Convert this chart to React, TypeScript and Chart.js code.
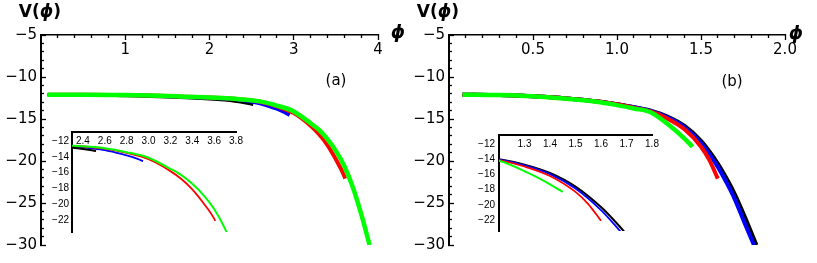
import React, { useEffect, useRef } from "react";
import { Chart, registerables } from "chart.js";

Chart.register(...registerables);

// ---------------- Panel (a): V(phi) main curves ----------------
const A_BLACK_PHI = [0.08, 0.5, 1.0, 1.5, 2.0, 2.3, 2.4, 2.52];
const A_BLACK_V = [-12.1, -12.1, -12.2, -12.35, -12.6, -12.85, -13.0, -13.25];
const A_BLUE_PHI = [0.08, 0.5, 1.0, 1.5, 2.0, 2.3, 2.5, 2.6, 2.7, 2.8, 2.9, 2.95];
const A_BLUE_V = [-12.1, -12.1, -12.15, -12.3, -12.5, -12.65, -12.95, -13.15, -13.45, -13.8, -14.25, -14.55];
const A_RED_PHI = [0.08, 0.5, 1.0, 1.5, 2.0, 2.3, 2.6, 2.8, 3.0, 3.2, 3.3, 3.4, 3.5, 3.6, 3.61];
const A_RED_V = [-12.1, -12.1, -12.15, -12.25, -12.45, -12.6, -12.95, -13.5, -14.3, -15.8, -16.8, -18.1, -19.8, -21.8, -22.1];
const A_GREEN_PHI = [0.08, 0.5, 1.0, 1.5, 2.0, 2.3, 2.6, 2.8, 3.0, 3.2, 3.3, 3.4, 3.5, 3.6, 3.7, 3.8, 3.9];
const A_GREEN_V = [-12.1, -12.1, -12.15, -12.25, -12.45, -12.6, -12.9, -13.4, -14.1, -15.5, -16.3, -17.4, -18.8, -20.6, -23.1, -26.3, -30];

// ---------------- Panel (b): V(phi) main curves ----------------
const B_BLACK_PHI = [0.08, 0.3, 0.5, 0.7, 0.9, 1.0, 1.1, 1.2, 1.3, 1.4, 1.5, 1.6, 1.65, 1.7, 1.76, 1.83];
const B_BLACK_V = [-12.1, -12.15, -12.3, -12.55, -12.95, -13.25, -13.6, -14.0, -14.7, -15.8, -17.6, -20.3, -22.0, -23.9, -26.6, -30];
const B_BLUE_PHI = [0.08, 0.3, 0.5, 0.7, 0.9, 1.0, 1.1, 1.2, 1.3, 1.4, 1.5, 1.6, 1.65, 1.7, 1.76, 1.815];
const B_BLUE_V = [-12.1, -12.15, -12.3, -12.55, -12.95, -13.25, -13.6, -14.05, -14.8, -15.95, -17.85, -20.7, -22.5, -24.5, -27.4, -30];
const B_RED_PHI = [0.08, 0.3, 0.5, 0.7, 0.9, 1.0, 1.1, 1.2, 1.3, 1.4, 1.5, 1.55, 1.6];
const B_RED_V = [-12.1, -12.15, -12.3, -12.55, -12.95, -13.25, -13.65, -14.1, -14.95, -16.2, -18.3, -19.9, -22.1];
const B_GREEN_PHI = [0.08, 0.3, 0.5, 0.7, 0.9, 1.0, 1.1, 1.2, 1.32, 1.4, 1.45];
const B_GREEN_V = [-12.1, -12.15, -12.3, -12.6, -13.0, -13.35, -13.75, -14.2, -15.9, -17.3, -18.3];

// ---------------- Axis ticks ----------------
const A_X_MAJOR = [1, 2, 3, 4];
const A_X_LABELS = ["1", "2", "3", "4"];
const A_X_MINOR = [0.2, 0.4, 0.6, 0.8, 1.2, 1.4, 1.6, 1.8, 2.2, 2.4, 2.6, 2.8, 3.2, 3.4, 3.6, 3.8];
const B_X_MAJOR = [0.5, 1.0, 1.5, 2.0];
const B_X_LABELS = ["0.5", "1.0", "1.5", "2.0"];
const B_X_MINOR = [0.1, 0.2, 0.3, 0.4, 0.6, 0.7, 0.8, 0.9, 1.1, 1.2, 1.3, 1.4, 1.6, 1.7, 1.8, 1.9];
const Y_MAJOR = [-5, -10, -15, -20, -25, -30];
const Y_LABELS = ["\u22125", "\u221210", "\u221215", "\u221220", "\u221225", "\u221230"];
const Y_MINOR = [-6, -7, -8, -9, -11, -12, -13, -14, -16, -17, -18, -19, -21, -22, -23, -24, -26, -27, -28, -29];

// insets
const IA_X_TICKS = [2.4, 2.6, 2.8, 3.0, 3.2, 3.4, 3.6, 3.8];
const IA_X_LABELS = ["2.4", "2.6", "2.8", "3.0", "3.2", "3.4", "3.6", "3.8"];
const IB_X_TICKS = [1.3, 1.4, 1.5, 1.6, 1.7, 1.8];
const IB_X_LABELS = ["1.3", "1.4", "1.5", "1.6", "1.7", "1.8"];
const I_Y_TICKS = [-12, -14, -16, -18, -20, -22];
const I_Y_LABELS = ["\u221212", "\u221214", "\u221216", "\u221218", "\u221220", "\u221222"];

type Ser = { phi: number[]; v: number[]; color: string; width: number };

interface Spec {
  left: number;
  width: number;
  area: { l: number; t: number; r: number; b: number };
  xr: [number, number];
  yr: [number, number];
  xMajor: number[];
  xLabels: string[];
  xMinor: number[];
  yMajor: number[];
  yLabels: string[];
  yMinor: number[];
  font: { family: string; size: number; lineHeight: number };
  xPad: number;
  yGap: number;
  majorLen: number;
  minorLen: number;
  xBorder: number;
  yBorder: number;
  series: Ser[]; // drawn in this order: last one ends on top
}

const H = 263;

function axis(kind: "x" | "y", o: any) {
  return {
    type: "linear",
    position: kind === "x" ? "top" : "left",
    min: o.min,
    max: o.max,
    weight: o.weight,
    afterBuildTicks: (s: any) => {
      s.ticks = o.vals.map((v: number) => ({ value: v }));
    },
    afterFit: (s: any) => {
      if (kind === "x") s.height = o.size;
      else s.width = o.size;
    },
    ticks: {
      display: o.show,
      mirror: kind === "x",
      padding: o.pad,
      font: o.font,
      color: "#000",
      autoSkip: false,
      maxRotation: 0,
      minRotation: 0,
      callback: (_v: any, i: number) => (o.labels ? o.labels[i] ?? "" : ""),
    },
    grid: {
      display: true,
      drawOnChartArea: false,
      drawTicks: o.len > 0,
      tickLength: -o.len,
      tickColor: "#000",
      tickWidth: 1.3,
      lineWidth: 1,
    },
    border: { display: o.border > 0, width: o.border || 0, color: "#000" },
  };
}

function buildConfig(s: Spec): any {
  const scales: any = {
    x: axis("x", {
      min: s.xr[0], max: s.xr[1], weight: 2, vals: s.xMajor, labels: s.xLabels,
      size: 0, show: true, pad: s.xPad, font: s.font, len: s.majorLen, border: s.xBorder,
    }),
    y: axis("y", {
      min: s.yr[0], max: s.yr[1], weight: 2, vals: s.yMajor, labels: s.yLabels,
      size: s.area.l, show: true, pad: s.majorLen + s.yGap, font: s.font, len: s.majorLen, border: s.yBorder,
    }),
  };
  if (s.xMinor.length) {
    scales.xm = axis("x", {
      min: s.xr[0], max: s.xr[1], weight: 0, vals: s.xMinor, size: 0, show: false,
      pad: 0, font: s.font, len: s.minorLen, border: 0,
    });
  }
  if (s.yMinor.length) {
    scales.ym = axis("y", {
      min: s.yr[0], max: s.yr[1], weight: 0, vals: s.yMinor, size: 0, show: false,
      pad: 0, font: s.font, len: s.minorLen, border: 0,
    });
  }
  const n = s.series.length;
  return {
    type: "scatter",
    data: {
      datasets: s.series.map((se, k) => ({
        data: se.phi.map((x, i) => ({ x, y: se.v[i] })),
        showLine: true,
        borderColor: se.color,
        backgroundColor: se.color,
        borderWidth: se.width,
        pointRadius: 0,
        fill: false,
        cubicInterpolationMode: "monotone",
        clip: 0,
        order: n - k,
        xAxisID: "x",
        yAxisID: "y",
      })),
    },
    options: {
      animation: false,
      responsive: false,
      maintainAspectRatio: false,
      events: [],
      layout: {
        padding: { left: 0, top: s.area.t, right: s.width - s.area.r, bottom: H - s.area.b },
      },
      plugins: { legend: { display: false }, tooltip: { enabled: false }, title: { display: false } },
      scales,
    },
  };
}

function ChartCanvas({ spec }: { spec: Spec }) {
  const ref = useRef<HTMLCanvasElement>(null);
  useEffect(() => {
    const chart = new Chart(ref.current as HTMLCanvasElement, buildConfig(spec));
    return () => chart.destroy();
  }, []);
  return (
    <canvas
      ref={ref}
      width={spec.width}
      height={H}
      style={{ position: "absolute", left: spec.left, top: 0, width: spec.width, height: H }}
    />
  );
}

const MAIN_FONT = { family: "'DejaVu Sans'", size: 15, lineHeight: 1.2 };
const INSET_FONT = { family: "'Liberation Sans'", size: 10, lineHeight: 1.2 };

const mainA: Spec = {
  left: 0, width: 408, area: { l: 41, t: 35, r: 378, b: 247 },
  xr: [0, 4], yr: [-30, -5],
  xMajor: A_X_MAJOR, xLabels: A_X_LABELS, xMinor: A_X_MINOR,
  yMajor: Y_MAJOR, yLabels: Y_LABELS, yMinor: Y_MINOR,
  font: MAIN_FONT, xPad: 6, yGap: 4, majorLen: 5, minorLen: 3, xBorder: 1.5, yBorder: 2,
  series: [
    { phi: A_BLACK_PHI, v: A_BLACK_V, color: "#000000", width: 3.5 },
    { phi: A_BLUE_PHI, v: A_BLUE_V, color: "#0000ff", width: 3.5 },
    { phi: A_RED_PHI, v: A_RED_V, color: "#ff0000", width: 4 },
    { phi: A_GREEN_PHI, v: A_GREEN_V, color: "#00ff00", width: 4.5 },
  ],
};

const mainB: Spec = {
  left: 408, width: 409, area: { l: 41, t: 35, r: 377, b: 247 },
  xr: [0, 2], yr: [-30, -5],
  xMajor: B_X_MAJOR, xLabels: B_X_LABELS, xMinor: B_X_MINOR,
  yMajor: Y_MAJOR, yLabels: Y_LABELS, yMinor: Y_MINOR,
  font: MAIN_FONT, xPad: 6, yGap: 4, majorLen: 5, minorLen: 3, xBorder: 1.5, yBorder: 2,
  series: [
    { phi: B_BLACK_PHI, v: B_BLACK_V, color: "#000000", width: 4 },
    { phi: B_BLUE_PHI, v: B_BLUE_V, color: "#0000ff", width: 4 },
    { phi: B_RED_PHI, v: B_RED_V, color: "#ff0000", width: 4 },
    { phi: B_GREEN_PHI, v: B_GREEN_V, color: "#00ff00", width: 4.5 },
  ],
};

const insetA: Spec = {
  left: 0, width: 408, area: { l: 72, t: 132, r: 236, b: 232 },
  xr: [2.3, 3.8], yr: [-23.5, -10.85],
  xMajor: IA_X_TICKS, xLabels: IA_X_LABELS, xMinor: [],
  yMajor: I_Y_TICKS, yLabels: I_Y_LABELS, yMinor: [],
  font: INSET_FONT, xPad: 3, yGap: 3, majorLen: 0, minorLen: 0, xBorder: 2, yBorder: 2,
  series: [
    { phi: A_BLUE_PHI, v: A_BLUE_V, color: "#0000ff", width: 1.8 },
    { phi: A_RED_PHI, v: A_RED_V, color: "#ff0000", width: 1.8 },
    { phi: A_GREEN_PHI, v: A_GREEN_V, color: "#00ff00", width: 2 },
    { phi: A_BLACK_PHI, v: A_BLACK_V, color: "#000000", width: 2 },
  ],
};

const insetB: Spec = {
  left: 408, width: 409, area: { l: 91, t: 135, r: 244, b: 231 },
  xr: [1.2, 1.8], yr: [-23.45, -10.8],
  xMajor: IB_X_TICKS, xLabels: IB_X_LABELS, xMinor: [],
  yMajor: I_Y_TICKS, yLabels: I_Y_LABELS, yMinor: [],
  font: INSET_FONT, xPad: 3.5, yGap: 4, majorLen: 0, minorLen: 0, xBorder: 2, yBorder: 2,
  series: [
    { phi: B_BLACK_PHI, v: B_BLACK_V, color: "#000000", width: 2 },
    { phi: B_BLUE_PHI, v: B_BLUE_V, color: "#0000ff", width: 1.8 },
    { phi: B_RED_PHI, v: B_RED_V, color: "#ff0000", width: 1.8 },
    { phi: B_GREEN_PHI, v: B_GREEN_V, color: "#00ff00", width: 2 },
  ],
};

function Label({ cx, cy, size, bold, italic, children }: any) {
  return (
    <div
      style={{
        position: "absolute",
        left: cx,
        top: cy,
        transform: "translate(-50%, -50%)",
        lineHeight: 1,
        whiteSpace: "nowrap",
        fontFamily: "'DejaVu Sans'",
        fontSize: size,
        fontWeight: bold ? "bold" : "normal",
        fontStyle: italic ? "italic" : "normal",
        color: "#000",
      }}
    >
      {children}
    </div>
  );
}

const PHI = "\u03D5";

export default function App() {
  return (
    <div
      style={{
        position: "absolute",
        left: 0,
        top: 0,
        width: 817,
        height: H,
        background: "#fff",
        overflow: "hidden",
      }}
    >
      <ChartCanvas spec={mainA} />
      <ChartCanvas spec={insetA} />
      <ChartCanvas spec={mainB} />
      <ChartCanvas spec={insetB} />
      <Label cx={40} cy={11} size={17} bold>
        V(<i>{PHI}</i>)
      </Label>
      <Label cx={438} cy={11} size={17} bold>
        V(<i>{PHI}</i>)
      </Label>
      <Label cx={398} cy={32} size={18} bold italic>
        {PHI}
      </Label>
      <Label cx={796} cy={33} size={18} bold italic>
        {PHI}
      </Label>
      <Label cx={336} cy={80} size={15}>
        (a)
      </Label>
      <Label cx={732} cy={81} size={15}>
        (b)
      </Label>
    </div>
  );
}
